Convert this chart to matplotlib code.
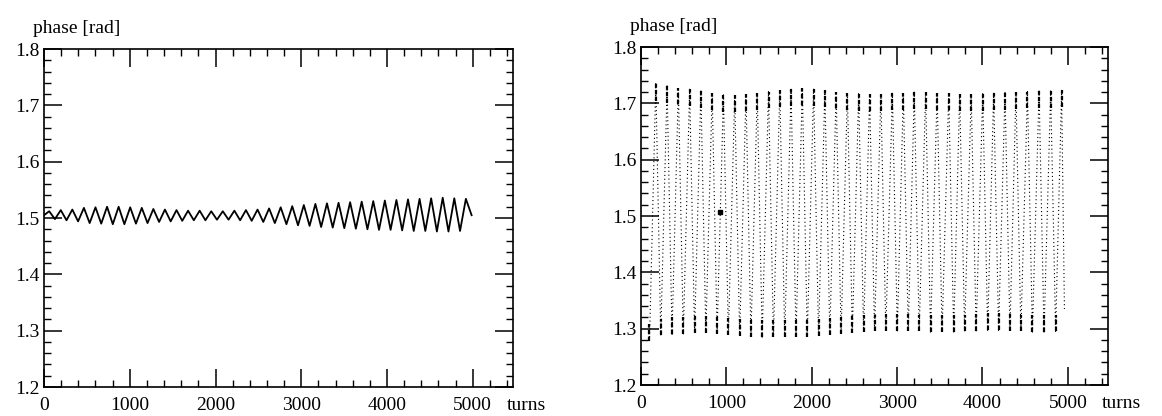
import numpy as np
import matplotlib
matplotlib.use("Agg")
import matplotlib.pyplot as plt
from matplotlib.ticker import MultipleLocator

plt.rcParams["font.family"] = ["Liberation Serif", "DejaVu Serif"]

## left panel: small phase oscillation, extremes
left_peak_turns = [60, 195, 330, 465, 600, 735, 870, 1005, 1140, 1275, 1410, 1545, 1680,
                   1815, 1950, 2085, 2220, 2355, 2490, 2625, 2760, 2895, 3030, 3165, 3300,
                   3435, 3570, 3705, 3840, 3975, 4110, 4245, 4380, 4515, 4650, 4785, 4920]
left_peaks = [1.512, 1.514, 1.515, 1.518, 1.519, 1.520, 1.520, 1.519, 1.518, 1.516, 1.515,
              1.514, 1.513, 1.513, 1.512, 1.512, 1.513, 1.514, 1.515, 1.517, 1.519, 1.521,
              1.523, 1.525, 1.526, 1.527, 1.528, 1.529, 1.530, 1.531, 1.532, 1.533, 1.534,
              1.535, 1.536, 1.535, 1.534]
left_trough_turns = [127, 262, 397, 532, 667, 802, 937, 1072, 1207, 1342, 1477, 1612, 1747,
                     1882, 2017, 2152, 2287, 2422, 2557, 2692, 2827, 2962, 3097, 3232, 3367,
                     3502, 3637, 3772, 3907, 4042, 4177, 4312, 4447, 4582, 4717, 4852, 4987]
left_troughs = [1.498, 1.496, 1.494, 1.491, 1.490, 1.489, 1.489, 1.490, 1.491, 1.493, 1.494,
                1.495, 1.496, 1.496, 1.497, 1.497, 1.496, 1.495, 1.493, 1.491, 1.489, 1.487,
                1.486, 1.484, 1.483, 1.482, 1.481, 1.480, 1.479, 1.479, 1.478, 1.477, 1.477,
                1.476, 1.476, 1.477, 1.505]
left_start = (0, 1.505)

## right panel: large oscillation, sampled as dots
right_top_turns = [174, 306, 438, 570, 702, 834, 966, 1098, 1230, 1362, 1494, 1626, 1758,
                   1890, 2022, 2154, 2286, 2418, 2550, 2678, 2810, 2945, 3073, 3201, 3334,
                   3469, 3605, 3733, 3868, 4003, 4131, 4264, 4392, 4527, 4663, 4799, 4927]
right_tops = [1.735, 1.731, 1.728, 1.725, 1.722, 1.718, 1.715, 1.714, 1.716, 1.718, 1.721,
              1.723, 1.725, 1.727, 1.726, 1.723, 1.721, 1.719, 1.717, 1.717, 1.717, 1.718,
              1.719, 1.720, 1.720, 1.719, 1.718, 1.716, 1.716, 1.717, 1.718, 1.719, 1.720,
              1.721, 1.722, 1.722, 1.723]
right_bottom_turns = [100, 232, 364, 496, 628, 760, 892, 1024, 1156, 1288, 1420, 1552, 1684,
                      1816, 1948, 2080, 2212, 2344, 2476, 2608, 2736, 2868, 3003, 3131, 3259,
                      3392, 3527, 3663, 3791, 3926, 4061, 4189, 4322, 4450, 4585, 4721, 4857]
right_bottoms = [1.278, 1.288, 1.290, 1.290, 1.292, 1.293, 1.291, 1.289, 1.287, 1.286, 1.285,
                 1.285, 1.285, 1.286, 1.286, 1.287, 1.289, 1.291, 1.293, 1.294, 1.295, 1.296,
                 1.296, 1.296, 1.295, 1.294, 1.294, 1.294, 1.295, 1.296, 1.297, 1.297, 1.296,
                 1.295, 1.294, 1.294, 1.295]
right_end = (4960, 1.335)
stray_turns = [920]
stray_vals = [1.508]

x_ticks = [0, 1000, 2000, 3000, 4000, 5000]
y_ticks = [1.2, 1.3, 1.4, 1.5, 1.6, 1.7, 1.8]


def zigzag(first, tops_t, tops_v, bots_t, bots_v, last=None):
    pts = [(t, v) for t, v in zip(tops_t, tops_v)] + [(t, v) for t, v in zip(bots_t, bots_v)]
    if first is not None:
        pts.append(first)
    if last is not None:
        pts.append(last)
    pts.sort()
    return [p[0] for p in pts], [p[1] for p in pts]


def style_axes(ax):
    ax.set_xlim(0, 5470)
    ax.set_ylim(1.2, 1.8)
    ax.set_xticks(x_ticks)
    ax.set_yticks(y_ticks)
    ax.set_xticklabels([str(t) for t in x_ticks])
    ax.set_yticklabels(["%.1f" % v for v in y_ticks])
    ax.xaxis.set_minor_locator(MultipleLocator(200))
    ax.yaxis.set_minor_locator(MultipleLocator(0.02))
    ax.tick_params(which="both", direction="in", top=True, right=True, labelsize=14)
    ax.tick_params(axis="x", pad=7)
    ax.tick_params(axis="y", pad=3)
    ax.tick_params(which="major", length=13, width=1.1)
    ax.tick_params(which="minor", length=5, width=1.0)
    for s in ax.spines.values():
        s.set_linewidth(1.2)
    ax.text(-0.024, 1.035, "phase [rad]", transform=ax.transAxes, ha="left", va="bottom",
            fontsize=14)
    # "turns" sits on the same line as the x tick labels
    ax.text(5400, 1.2, "turns", ha="left", va="top", fontsize=14,
            transform=ax.transData + matplotlib.transforms.ScaledTranslation(0, -7 / 72,
                                                                             fig.dpi_scale_trans))


fig = plt.figure(figsize=(11.62, 4.16), dpi=100)
ax1 = fig.add_axes([0.0379, 0.0697, 0.4036, 0.8125])
ax2 = fig.add_axes([0.5516, 0.0745, 0.4019, 0.8125])

# left: solid wiggle
xs, ys = zigzag(left_start, left_peak_turns, left_peaks, left_trough_turns, left_troughs)
ax1.plot(xs, ys, color="black", lw=1.3)
style_axes(ax1)

# right: dotted swings with dense ends
xs, ys = zigzag(None, right_top_turns, right_tops, right_bottom_turns, right_bottoms, right_end)
ax2.plot(xs, ys, color="black", lw=0.8, ls=(0, (1, 2.5)))
ax2.vlines(right_top_turns, np.array(right_tops) - 0.03, right_tops, color="black",
           lw=1.6, linestyles=(0, (2, 1)))
ax2.vlines(right_bottom_turns, right_bottoms, np.array(right_bottoms) + 0.03, color="black",
           lw=1.6, linestyles=(0, (2, 1)))
ax2.plot(stray_turns, stray_vals, "s", color="black", ms=2.5)
style_axes(ax2)

fig.savefig("out.png", dpi=100)
